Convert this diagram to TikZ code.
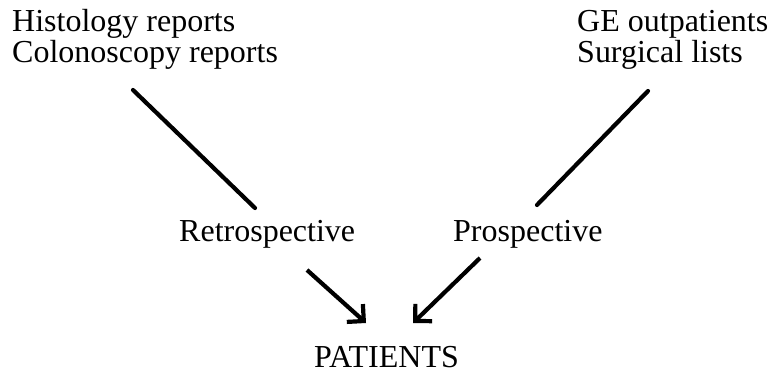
\documentclass[tikz,border=0pt]{standalone}
\usepackage{fontspec}
\setmainfont{Liberation Serif}
\usetikzlibrary{arrows.meta}
\begin{document}
\begin{tikzpicture}[x=1pt,y=-1pt,
  lbl/.style={inner sep=0pt,anchor=base west,font=\fontsize{32}{31}\selectfont,align=left},
  link/.style={line width=4.2pt,line cap=round},
  flow/.style={line width=4.2pt,-{Straight Barb[angle=90:17pt,line width=4.2pt]}}]
\useasboundingbox (0,0) rectangle (768,380);
\node[lbl] (src1) at (12,62) {Histology reports\\Colonoscopy reports};
\node[lbl] (src2) at (577,62) {GE outpatients\\Surgical lists};
\node[lbl] (retro) at (179,241) {Retrospective};
\node[lbl] (pro) at (453,241) {Prospective};
\node[lbl] (pat) at (314,367) {PATIENTS};
\coordinate (a1) at (133,90);
\coordinate (a2) at (255,208);
\coordinate (b1) at (648,91);
\coordinate (b2) at (537,205);
\coordinate (c1) at (307,270);
\coordinate (c2) at (366,323);
\coordinate (d1) at (480,258);
\coordinate (d2) at (413,323);
\draw[link] (a1) -- (a2);
\draw[link] (b1) -- (b2);
\draw[flow] (c1) -- (c2);
\draw[flow] (d1) -- (d2);
\end{tikzpicture}
\end{document}
